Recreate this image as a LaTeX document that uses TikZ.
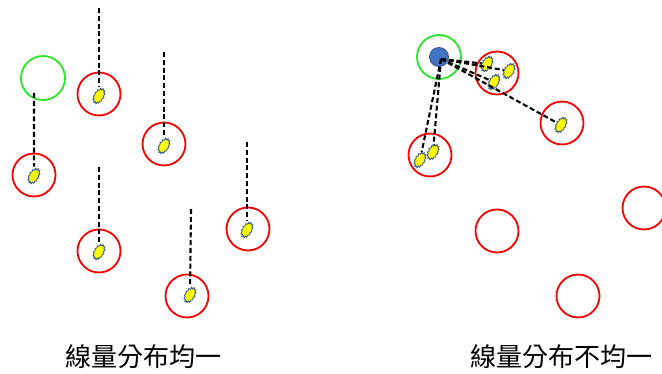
\documentclass[tikz,border=0pt]{standalone}
\usepackage{fontspec}
\newfontfamily\cjk{Noto Sans CJK TC}
\usetikzlibrary{shapes.geometric}
\definecolor{myred}{RGB}{255,0,0}
\definecolor{mygreen}{RGB}{40,230,40}
\definecolor{myblue}{RGB}{68,114,196}
\definecolor{myblueline}{RGB}{47,82,143}
\definecolor{myyellow}{RGB}{255,255,0}
\tikzset{
  redc/.style={circle, draw=myred, line width=1.8pt, minimum size=43pt, inner sep=0pt},
  greenc/.style={circle, draw=mygreen, line width=1.8pt, minimum size=44pt, inner sep=0pt},
  blob/.style={star, star points=13, star point ratio=1.25, fill=myyellow, draw=myblueline, line width=0.8pt, minimum size=17pt, inner sep=0pt, rotate=-30, xscale=0.6, transform shape},
  dline/.style={dash pattern=on 5pt off 2.8pt, line width=2.1pt, black},
  lab/.style={font=\cjk\fontsize{26}{26}\selectfont, inner sep=0pt}
}
\begin{document}
\begin{tikzpicture}[x=1pt,y=-1pt]
\useasboundingbox (0,0) rectangle (662,374);
% ---------- left panel ----------
\node[greenc] (g1) at (43,78) {};
\node[redc] (r1) at (99,94) {};
\node[redc] (r2) at (164,144) {};
\node[redc] (r3) at (34,175) {};
\node[redc] (r4) at (99,251) {};
\node[redc] (r5) at (248,229) {};
\node[redc] (r6) at (187,296) {};
\coordinate (t1) at (99,8);
\coordinate (t2) at (164,52);
\coordinate (t3) at (34,93);
\coordinate (t4) at (99,167);
\coordinate (t5) at (247,142);
\coordinate (t6) at (191,209);
\node[blob] (b1) at (99,96) {};
\node[blob] (b2) at (164,146) {};
\node[blob] (b3) at (34,176) {};
\node[blob] (b4) at (99,252) {};
\node[blob] (b5) at (247,230) {};
\node[blob] (b6) at (190,295) {};
\draw[dline, shorten >=3pt] (t1) -- (b1);
\draw[dline, shorten >=3pt] (t2) -- (b2);
\draw[dline, shorten >=3pt] (t3) -- (b3);
\draw[dline, shorten >=3pt] (t4) -- (b4);
\draw[dline, shorten >=3pt] (t5) -- (b5);
\draw[dline, shorten >=3pt] (t6) -- (b6);
% ---------- right panel ----------
\node[greenc] (g2) at (439,57) {};
\node[circle, fill=myblue, draw=myblueline, line width=0.8pt, minimum size=19pt, inner sep=0pt] (bc) at (439,57) {};
\coordinate (src) at (441,59);
\node[redc] (ra) at (497,73) {};
\node[redc] (rb) at (562,123) {};
\node[redc] (rc) at (430,155) {};
\node[redc] (rd) at (497,231) {};
\node[redc] (re) at (578,296) {};
\node[redc] (rf) at (644,208) {};
\node[blob] (a1) at (487,64) {};
\node[blob] (a2) at (509,71) {};
\node[blob] (a3) at (494,82) {};
\node[blob] (bb1) at (561,125) {};
\node[blob] (c1) at (420,160) {};
\node[blob] (c2) at (433,152) {};
\draw[dline] (src) -- (a1);
\draw[dline] (src) -- (a2);
\draw[dline] (src) -- (a3);
\draw[dline] (src) -- (bb1);
\draw[dline] (src) -- (c1);
\draw[dline] (src) -- (c2);
% ---------- labels ----------
\node[lab] (l1) at (143,357) {線量分布均一};
\node[lab] (l2) at (561,357) {線量分布不均一};
\end{tikzpicture}
\end{document}
